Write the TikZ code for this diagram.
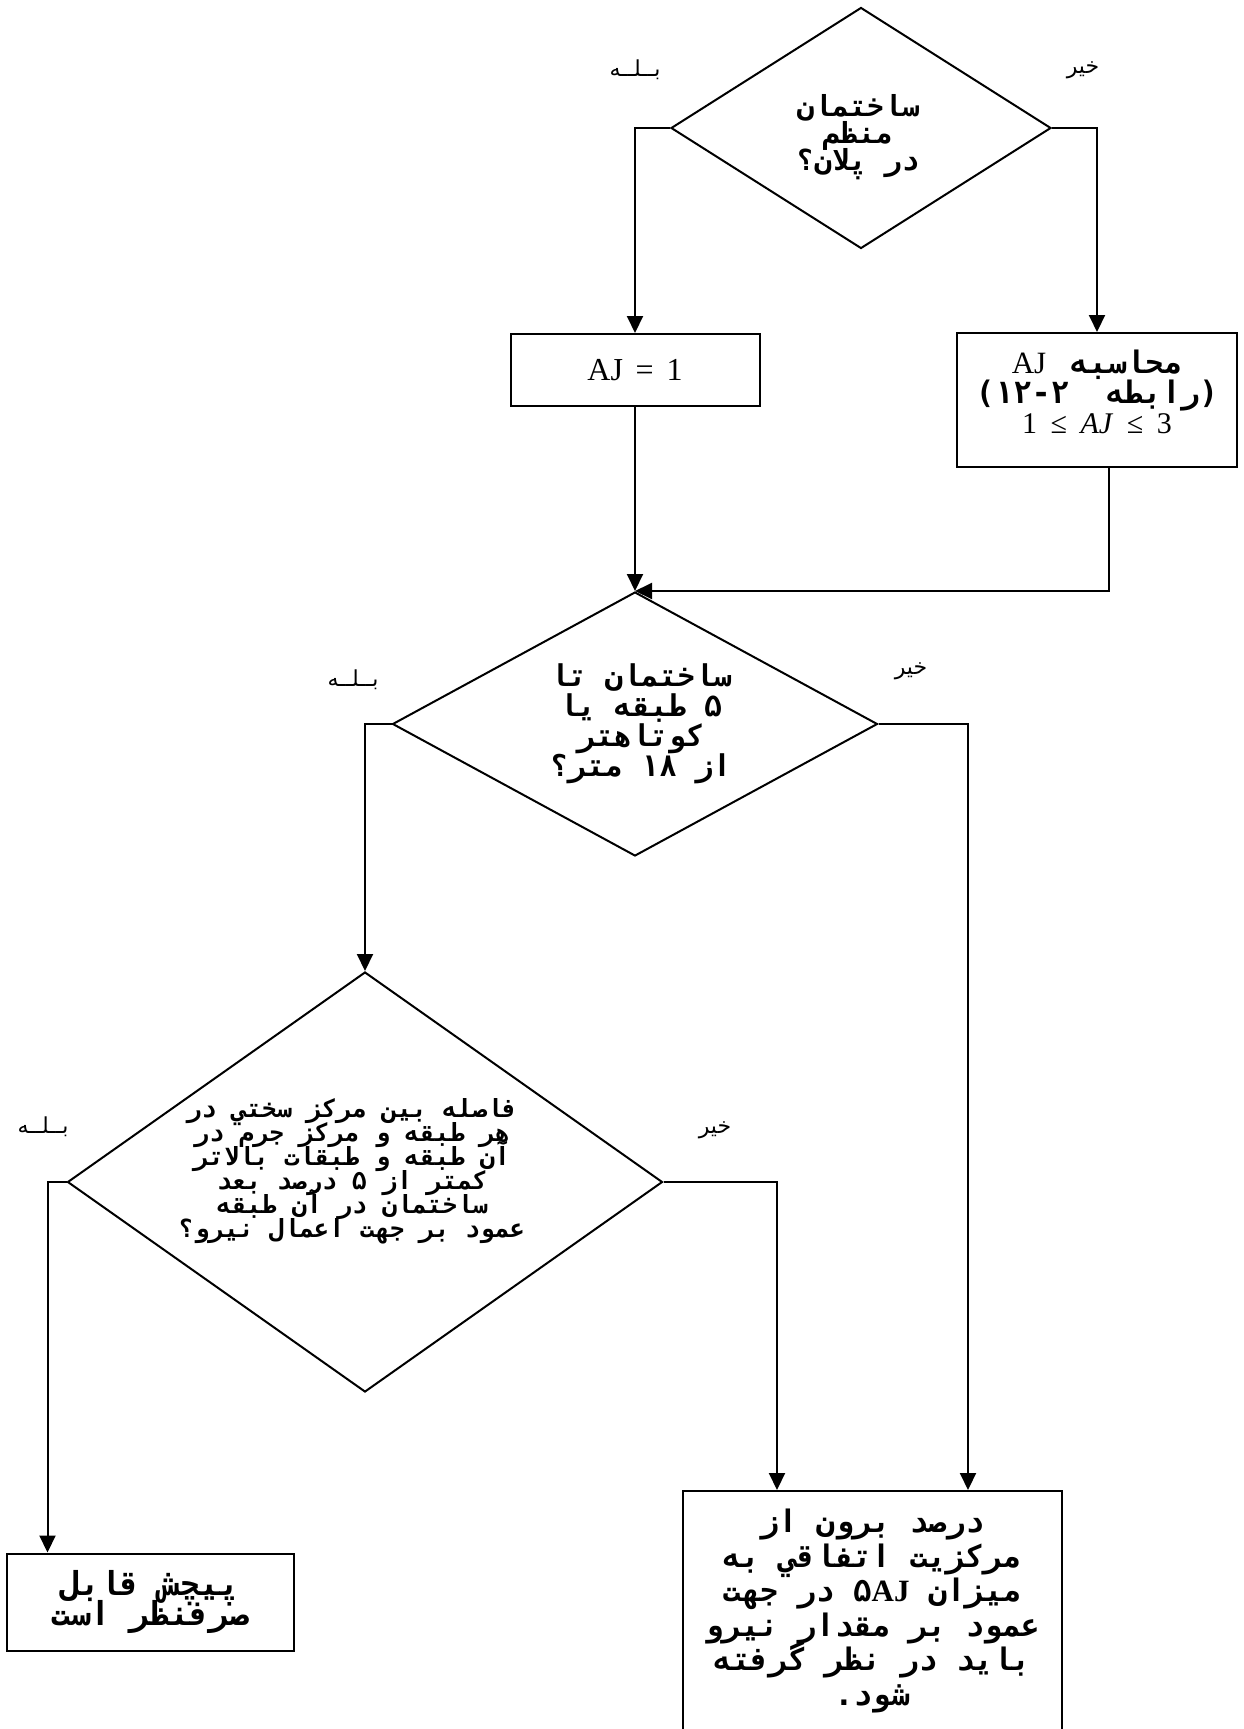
\documentclass[tikz,border=0pt]{standalone}
\usepackage{fontspec}
\setmainfont{Liberation Serif}
\newfontfamily\arabicfont[Script=Arabic]{DejaVu Sans}
\newfontfamily\arabicmono[Script=Arabic]{DejaVu Sans Mono}
\newfontfamily\latinmono{DejaVu Sans Mono}
\TeXXeTstate=1
\lineskiplimit=-100pt
\usetikzlibrary{shapes, arrows.meta, calc, positioning}

\begin{document}
\begin{tikzpicture}[x=1pt, y=-1pt, line width=2pt]%{{{
        \useasboundingbox (0,0) rectangle (1243,1729);

        \tikzstyle{d} = [draw, diamond, inner sep=0pt];
        \tikzstyle{b} = [draw, rectangle, inner sep=0pt, align=center];
        \tikzstyle{t} = [inner sep=0pt, align=center];
        \tikzstyle{l} = [font=\arabicfont\fontsize{22}{24}\selectfont];
        \tikzstyle{a} = [-{Triangle[width=16pt, length=17pt]}];

        \node [d, minimum width=380pt, minimum height=241pt] (Q1) at (861, 128) {};
        \node [t, font=\arabicmono\bfseries\fontsize{29}{27}\selectfont] (Q1t) at (858, 137)
            {\beginR ساختمان\endR\\ \beginR منظم\endR\\ \beginR در پلان؟\endR};

        \node [b, minimum width=249pt, minimum height=72pt,
            font=\fontsize{32}{34}\selectfont] (AJ1) at (635, 370)
            {AJ\hspace{0.4em}=\hspace{0.4em}1};

        \node [b, minimum width=280pt, minimum height=134pt] (C1) at (1097, 400) {};
        \node [t, font=\arabicmono\bfseries\fontsize{31}{30}\selectfont] (C1t) at (1097, 392)
            {\beginR محاسبه\hspace{24pt}{\rmfamily\mdseries AJ}\endR\\
             {\latinmono(۱۲-۲\hspace{37pt}}{رابطه}{\latinmono)}\\
             {\rmfamily\mdseries\fontsize{30}{30}\selectfont
              1\hspace{0.45em}≤\hspace{0.45em}\textit{AJ}\hspace{0.45em}≤\hspace{0.45em}3}};

        \node [d, minimum width=485pt, minimum height=264pt] (Q2) at (635, 724) {};
        \node [t, font=\arabicmono\bfseries\fontsize{30}{30}\selectfont] (Q2t) at (641, 724)
            {\beginR ساختمان تا\endR\\ \beginR ۵ طبقه یا\endR\\
             \beginR کوتاهتر\endR\\ \beginR از ۱۸ متر؟\endR};

        \node [d, minimum width=595pt, minimum height=420pt] (Q3) at (365, 1182) {};
        \node [t, font=\arabicmono\bfseries\fontsize{25}{24}\selectfont] (Q3t) at (352, 1171)
            {\beginR فاصله بین مرکز سختي در\endR\\
             \beginR هر طبقه و مرکز جرم در\endR\\
             \beginR آن طبقه و طبقات بالاتر\endR\\
             \beginR کمتر از ۵ درصد بعد\endR\\
             \beginR ساختمان در آن طبقه\endR\\
             \beginR عمود بر جهت اعمال نیرو؟\endR};

        \node [b, minimum width=287pt, minimum height=97pt,
            font=\arabicmono\bfseries\fontsize{33}{30}\selectfont] (R1) at (150, 1602)
            {\beginR پیچش قابل\endR\\ \beginR صرفنظر است\endR};

        \node [b, minimum width=379pt, minimum height=240pt,
            font=\arabicmono\bfseries\fontsize{31}{34.6}\selectfont] (R2) at (872, 1611)
            {\beginR درصد برون از\endR\\
             \beginR مرکزیت اتفاقي به\endR\\
             \beginR میزان \beginL ۵{\rmfamily AJ}\endL{} در جهت\endR\\
             \beginR عمود بر مقدار نیرو\endR\\
             \beginR باید در نظر گرفته\endR\\
             \beginR شود.\endR};

        % yes / no labels
        \node [l] (y1) at (635, 70)   {\beginR بــلــه\endR};
        \node [l] (n1) at (1083, 70)  {\beginR خیر\endR};
        \node [l] (y2) at (353, 680)  {\beginR بــلــه\endR};
        \node [l] (n2) at (911, 671)  {\beginR خیر\endR};
        \node [l] (y3) at (43, 1127)  {\beginR بــلــه\endR};
        \node [l] (n3) at (715, 1130) {\beginR خیر\endR};

        \draw [a] (Q1.west) -| (AJ1.north);
        \draw [a] (Q1.east) -| (C1.north);
        \draw [a] (AJ1.south) -- (Q2.north);
        \draw [a] ($(C1.south)+(12,0)$) |- (Q2.north);
        \draw [a] (Q2.west) -| (Q3.north);
        \draw [a] (Q2.east) -| ($(R2.north)+(96,0)$);
        \draw [a] (Q3.west) -| ($(R1.north west)+(42,0)$);
        \draw [a] (Q3.east) -| ($(R2.north)+(-95,0)$);
    \end{tikzpicture}
\end{document}
